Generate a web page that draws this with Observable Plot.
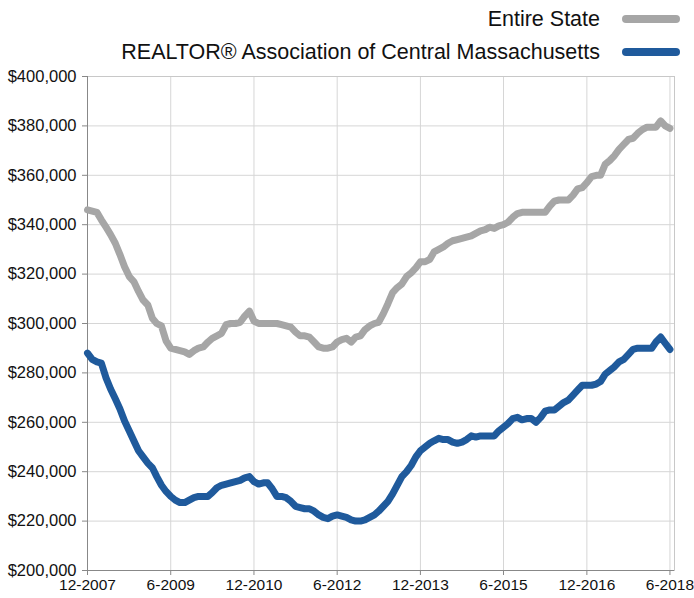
<!DOCTYPE html>
<html><head><meta charset="utf-8">
<script src="https://cdn.jsdelivr.net/npm/d3@7"></script>
<script src="https://cdn.jsdelivr.net/npm/@observablehq/plot@0.6"></script>
<style>
body{margin:0;background:#fff;font-family:"Liberation Sans",Arial,sans-serif;}
#legend{height:66px;position:relative;width:694px}
.row{position:absolute;right:14px;display:flex;align-items:center;font-size:21.5px;color:#111;height:26px}
.sw{width:58px;height:8px;border-radius:4px;margin-left:22px}
</style></head><body>
<div id="legend"></div>
<div id="chart"></div>
<script>
const seriesNames = ["Entire State", "REALTOR® Association of Central Massachusetts"];
const seriesColors = ["#a6a6a6", "#1f5a9c"];
const tickLabels = ["12-2007","6-2009","12-2010","6-2012","12-2013","6-2015","12-2016","6-2018"];
// monthly values starting 12-2007, in thousands of dollars
const stateValues = [
346,345.5,345,342,339,336,332.5,328,323,319,317,313,309.5,307.5,302,300,299,293,290,289.5,
289,288.5,287.5,289,290,290.5,292.5,294,295,296,299.5,300,300,300.5,303,305,301,300,300,300,
300,300,299.5,299,298.5,296.5,295,295,294.5,292.5,290.5,290,290,290.5,292.5,293.5,294,292.5,294.5,295,
297.5,299,300,300.5,304,308,312.5,314.5,316,319,320.5,322.5,325,325,326,329,330,331,332.5,333.5,
334,334.5,335,335.5,336.5,337.5,338,339,338.5,339.5,340,341,343,344.5,345,345,345,345,345,345,
347.5,349.5,350,350,350,352,354.5,355,357,359.5,360,360,364.5,366,368,370.5,372.5,374.5,375,377,
378.5,379.5,379.5,379.5,382,380,379];
const centralValues = [
288,285.5,284.5,284,278,273.5,269.5,265.5,260.5,256.5,252.5,248.5,246,243.5,241.5,238,234.5,232,230,228.5,
227.5,227.5,228.5,229.5,230,230,230,231.5,233.5,234.5,235,235.5,236,236.5,237.5,238,236,235,235.5,235.5,
233,230,230,229.5,228,226,225.5,225,225,224,222.5,221.5,221,222,222.5,222,221.5,220.5,220,220,
220.5,221.5,222.5,224,226,228,231,234.5,238,240,242.5,246,248.5,250,251.5,252.5,253.5,253,253,252,
251.5,252,253,254.5,254,254.5,254.5,254.5,254.5,256.5,258,259.5,261.5,262,261,261.5,261.5,260,262,264.5,
265,265,266.5,268,269,271,273,275,275,275,275.5,276.5,279.5,281,282.5,284.5,285.5,287.5,289.5,290,
290,290,290,292.5,294.5,292,289.5];

// legend
const legend = document.getElementById("legend");
seriesNames.forEach((name, i) => {
  const row = document.createElement("div");
  row.className = "row";
  row.style.top = (6 + i * 33) + "px";
  row.innerHTML = `<span>${name}</span><span class="sw" style="background:${seriesColors[i]}"></span>`;
  legend.appendChild(row);
});

const monthDate = i => new Date(Date.UTC(2007, 11 + i, 1));
const data = [];
stateValues.forEach((v, i) => data.push({date: monthDate(i), value: v * 1000, series: seriesNames[0]}));
centralValues.forEach((v, i) => data.push({date: monthDate(i), value: v * 1000, series: seriesNames[1]}));

const tickDates = tickLabels.map((_, i) => monthDate(i * 18));
const labelOf = d => tickLabels[tickDates.findIndex(t => +t === +d)];
const yTicks = d3.range(200000, 400001, 20000);

const chart = Plot.plot({
  width: 694, height: 532,
  marginTop: 10, marginLeft: 87, marginRight: 20, marginBottom: 28,
  style: {fontFamily: "'Liberation Sans', Arial, sans-serif", fontSize: "16px", color: "#111", background: "#fff"},
  x: {type: "utc", domain: [monthDate(0), monthDate(127)], label: null},
  y: {domain: [200000, 400000], label: null},
  color: {domain: seriesNames, range: seriesColors},
  marks: [
    Plot.gridX(tickDates, {stroke: "#d6d6d6", strokeOpacity: 1}),
    Plot.gridY(yTicks, {stroke: "#d6d6d6", strokeOpacity: 1}),
    Plot.frame({stroke: "#c8c8c8"}),
    Plot.ruleY([200000], {stroke: "#888"}),
    Plot.ruleX([monthDate(0)], {stroke: "#888"}),
    Plot.axisX(tickDates, {tickFormat: labelOf, tickSize: 5, tickPadding: 3, stroke: "#888", fontSize: 15.5, fill: "#111", label: null}),
    Plot.axisY(yTicks, {tickFormat: d => "$" + d3.format(",")(d), tickSize: 5, tickPadding: 6, stroke: "#888", fontSize: 16.5, fill: "#111", label: null}),
    Plot.line(data, {x: "date", y: "value", z: "series", stroke: "series", strokeWidth: 7, strokeLinejoin: "round", strokeLinecap: "round"})
  ]
});
document.getElementById("chart").appendChild(chart);
</script>
</body></html>
